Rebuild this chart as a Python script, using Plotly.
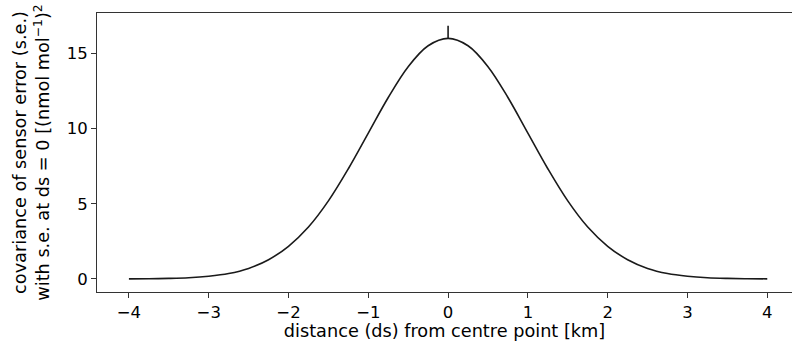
import plotly.graph_objects as go

# distance (km) and covariance values
distance = [-4.0, -3.75, -3.5, -3.25, -3.0, -2.75, -2.5, -2.25, -2.0, -1.75, -1.5, -1.25, -1.0,
            -0.75, -0.5, -0.25, 0.0, 0.25, 0.5, 0.75, 1.0, 1.25, 1.5, 1.75, 2.0, 2.25, 2.5,
            2.75, 3.0, 3.25, 3.5, 3.75, 4.0]
covariance = [0.005, 0.014, 0.035, 0.08, 0.18, 0.36, 0.70, 1.28, 2.17, 3.45, 5.19, 7.33, 9.70,
              12.07, 14.12, 15.51, 16.0, 15.51, 14.12, 12.07, 9.70, 7.33, 5.19, 3.45, 2.17,
              1.28, 0.70, 0.36, 0.18, 0.08, 0.035, 0.014, 0.005]
# nugget spike at ds = 0
spike_x = [0.0, 0.0]
spike_y = [16.0, 16.85]

x_ticks = [-4, -3, -2, -1, 0, 1, 2, 3, 4]
x_labels = ["\u22124", "\u22123", "\u22122", "\u22121", "0", "1", "2", "3", "4"]
y_ticks = [0, 5, 10, 15]

line_col = "#1a1a1a"
fig = go.Figure()
fig.add_trace(go.Scatter(x=distance, y=covariance, mode="lines",
                         line=dict(color=line_col, width=1.6, shape="spline", smoothing=1.0),
                         showlegend=False, hoverinfo="skip"))
fig.add_trace(go.Scatter(x=spike_x, y=spike_y, mode="lines",
                         line=dict(color=line_col, width=1.6),
                         showlegend=False, hoverinfo="skip"))

tick_font = dict(family="DejaVu Sans", size=16.5, color="#000")
title_font = dict(family="DejaVu Sans", size=17.7, color="#000")
fig.update_layout(
    width=792, height=341,
    margin=dict(l=97, r=0, t=13, b=49),
    paper_bgcolor="white", plot_bgcolor="white",
    font=tick_font,
    xaxis=dict(range=[-4.4, 4.31], tickvals=x_ticks, ticktext=x_labels, tickfont=tick_font,
               showline=True, linecolor="#333", linewidth=1, mirror=True,
               ticks="outside", ticklen=5, tickcolor="#333", showgrid=False, zeroline=False,
               title=dict(text="distance (ds) from centre point [km]", standoff=3,
                          font=title_font)),
    yaxis=dict(range=[-0.87, 17.69], tickvals=y_ticks, tickfont=tick_font,
               showline=True, linecolor="#333", linewidth=1,
               ticks="outside", ticklen=5, tickcolor="#333", showgrid=False, zeroline=False,
               title=dict(text="covariance of sensor error (s.e.)<br>with s.e. at ds = 0 [(nmol mol<sup>\u22121</sup>)<sup>2</sup>",
                          standoff=12, font=title_font)),
)
fig.write_html("out.html")
